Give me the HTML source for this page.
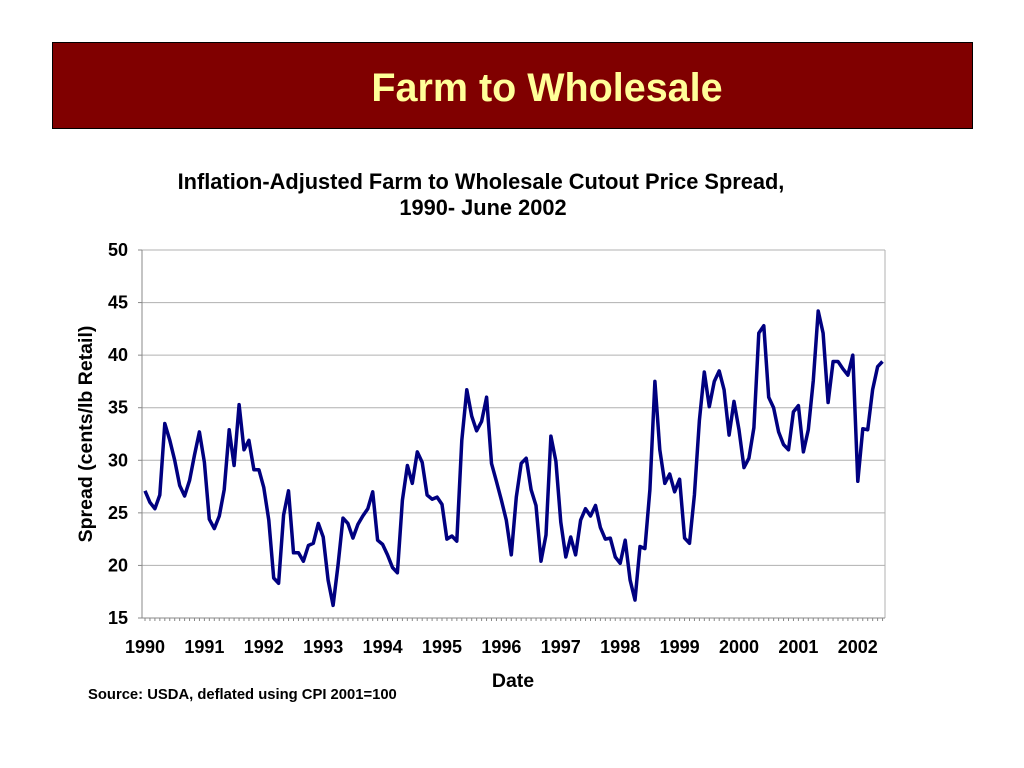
<!DOCTYPE html>
<html><head><meta charset="utf-8"><style>
body{margin:0;background:#fff;width:1024px;height:768px;overflow:hidden;font-family:"Liberation Sans",Arial,sans-serif}
</style></head><body>
<div style="position:absolute;left:52px;top:42px;width:919px;height:85px;background:#800000;border:1px solid #000"></div>
<div style="position:absolute;left:52px;top:66px;width:990px;text-align:center;color:#FFFF99;font-weight:bold;font-size:39.5px">Farm to Wholesale</div>
<svg id="c" width="1024" height="768" style="position:absolute;left:0;top:0"></svg>
<script>
const years=["1990","1991","1992","1993","1994","1995","1996","1997","1998","1999","2000","2001","2002"];
const yTicks=[15,20,25,30,35,40,45,50];
const spread=[27.1,26.0,25.4,26.7,33.5,31.9,30.0,27.6,26.6,28.1,30.5,32.7,29.8,24.4,23.5,24.7,27.2,32.9,29.5,35.3,31.0,31.9,29.1,29.1,27.4,24.3,18.8,18.3,24.8,27.1,21.2,21.2,20.4,21.9,22.1,24.0,22.7,18.6,16.2,20.0,24.5,24.0,22.6,23.9,24.7,25.4,27.0,22.4,22.0,21.0,19.8,19.3,26.2,29.5,27.8,30.8,29.8,26.7,26.3,26.5,25.8,22.5,22.8,22.3,31.9,36.7,34.2,32.8,33.7,36.0,29.7,28.0,26.2,24.3,21.0,26.5,29.7,30.2,27.2,25.7,20.4,22.9,32.3,29.9,24.1,20.8,22.7,21.0,24.3,25.4,24.7,25.7,23.6,22.5,22.6,20.8,20.2,22.4,18.6,16.7,21.8,21.6,27.2,37.5,31.0,27.8,28.7,27.0,28.2,22.6,22.1,26.7,33.8,38.4,35.1,37.5,38.5,36.7,32.4,35.6,32.9,29.3,30.2,33.1,42.1,42.8,36.0,35.0,32.7,31.5,31.0,34.6,35.2,30.8,32.9,37.6,44.2,42.1,35.5,39.4,39.4,38.7,38.1,40.0,28.0,33.0,32.9,36.7,38.9,39.4];
const NS="http://www.w3.org/2000/svg",svg=document.getElementById('c');
const L=142,R=885,T=250,B=618;
const xS=t=>145+(t)*59.4;
const yS=v=>B-(v-15)/35*(B-T);
const FF='Liberation Sans, sans-serif';
function mk(tag,at,txt){const e=document.createElementNS(NS,tag);for(const k in at)e.setAttribute(k,at[k]);if(txt!=null)e.textContent=txt;svg.appendChild(e);return e;}
let e=mk('text',{x:481,y:189,'text-anchor':'middle','font-size':21.8,'font-weight':'bold','font-family':FF},'Inflation-Adjusted Farm to Wholesale Cutout Price Spread,');


e=mk('text',{x:483,y:215,'text-anchor':'middle','font-size':21.8,'font-weight':'bold','font-family':FF},'1990- June 2002');


yTicks.forEach(v=>{
 const g=mk('line',{x1:L,x2:R,y1:yS(v),y2:yS(v),stroke:'#b0b0b0','stroke-width':1});
 
 
 const t=mk('text',{x:128,y:yS(v)+6,'text-anchor':'end','font-size':18,'font-weight':'bold','font-family':FF},v);
 
 
 mk('line',{x1:L-4,x2:L,y1:yS(v),y2:yS(v),stroke:'#888'});
});
mk('line',{x1:R,x2:R,y1:T,y2:B,stroke:'#b0b0b0'});
mk('line',{x1:L,x2:L,y1:T,y2:B,stroke:'#888'});
mk('line',{x1:L,x2:R,y1:B,y2:B,stroke:'#888'});
for(let m=0;m<150;m++){mk('line',{x1:xS(m/12),x2:xS(m/12),y1:B,y2:B+3,stroke:'#888'});}
years.forEach((y,i)=>{
 const t=mk('text',{x:xS(i),y:653,'text-anchor':'middle','font-size':18,'font-weight':'bold','font-family':FF},y);
 
 
});
e=mk('text',{x:513,y:687,'text-anchor':'middle','font-size':19.5,'font-weight':'bold','font-family':FF},'Date');


e=mk('text',{x:0,y:0,'text-anchor':'middle','font-size':19.5,'font-weight':'bold','font-family':FF,transform:'translate(92,434) rotate(-90)'},'Spread (cents/lb Retail)');


const pts=spread.map((v,i)=>xS(i/12).toFixed(1)+','+yS(v).toFixed(1)).join(' ');
e=mk('polyline',{points:pts,fill:'none',stroke:'#000080','stroke-width':3.5,'stroke-linejoin':'round'});


e=mk('text',{x:88,y:699,'font-size':14.8,'font-weight':'bold','font-family':FF},'Source: USDA, deflated using CPI 2001=100');


</script>
</body></html>
